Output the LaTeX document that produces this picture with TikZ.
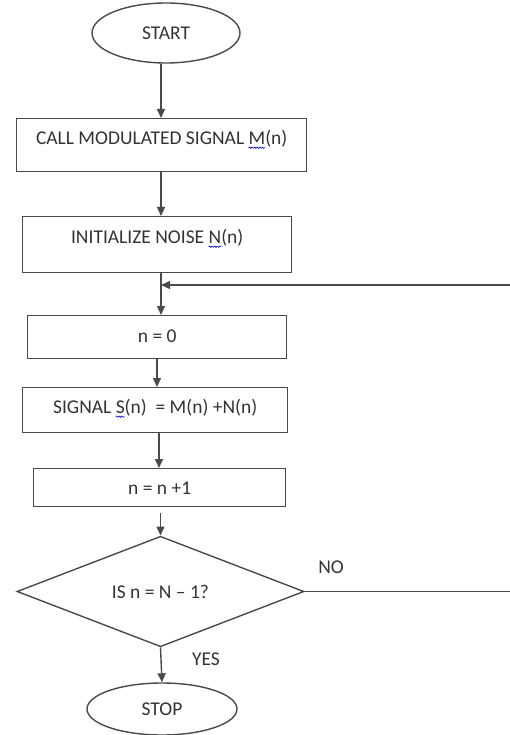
\documentclass[tikz,border=0pt]{standalone}
\usepackage{fontspec}
\setmainfont{Carlito}
\usetikzlibrary{shapes.geometric,arrows.meta,decorations.pathmorphing,calc}
\definecolor{ln}{HTML}{4A4A4A}
\definecolor{tx}{HTML}{333333}
\newlength\sqw
\newcommand\squig[1]{\settowidth\sqw{#1}\rlap{\tikz[overlay,baseline=0pt]\draw[blue!75!black,line width=0.6pt,decorate,decoration={snake,amplitude=0.7pt,segment length=2.6pt}] (0pt,-3pt) -- (\sqw,-3pt);}#1}
\begin{document}
\begin{tikzpicture}[x=1pt,y=-1pt,
  every node/.style={text=tx,font=\fontsize{19.5}{22}\selectfont},
  box/.style={draw=ln,line width=1.4pt,rectangle,inner sep=0pt,anchor=north west},
  term/.style={draw=ln,line width=1.4pt,ellipse,inner sep=0pt},
  dec/.style={draw=ln,line width=1.4pt,diamond,inner sep=0pt},
  arr/.style={draw=ln,line width=1.4pt,-{Triangle[length=9pt,width=8pt]}},
  ln/.style={draw=ln,line width=1.4pt}]
\useasboundingbox (0,0) rectangle (510,735);
\node[term,minimum width=148pt,minimum height=60pt] (start) at (166,33) {START};
\node[box,minimum width=290pt,text height=26pt,text depth=27pt] (call) at (16,118) {CALL MODULATED SIGNAL \squig{M}(n)};
\node[box,minimum width=269pt,text height=27pt,text depth=29pt] (init) at (22,216) {INITIALIZE NOISE \squig{N}(n)};
\node[box,minimum width=259pt,text height=27pt,text depth=16pt] (n0) at (27,315) {n = 0};
\node[box,minimum width=265pt,text height=26pt,text depth=19pt] (sig) at (22,387) {SIGNAL \squig{S}(n)\ \ = M(n) +N(n)};
\node[box,minimum width=252pt,text height=26pt,text depth=12pt] (inc) at (33,468) {n = n +1};
\node[dec,minimum width=287pt,minimum height=87pt] (dia) at (160.5,591.5) {IS n = N -- 1?};
\node[term,minimum width=150pt,minimum height=52pt] (stop) at (162,709) {STOP};
\node (no) at (331,567) {NO};
\node (yes) at (206,659) {YES};
\coordinate (j) at (161,285);
\coordinate (c1) at (513,591.5);
\coordinate (c2) at (513,285);
\draw[arr] (start.south -| j) -- (call.north -| j);
\draw[arr] (call.south -| j) -- (init.north -| j);
\draw[arr] (init.south -| j) -- (n0.north -| j);
\draw[arr] ([xshift=-4pt]n0.south -| j) -- ([xshift=-4pt]sig.north -| j);
\draw[arr] ([xshift=-2pt]sig.south -| j) -- ([xshift=-2pt]inc.north -| j);
\draw[arr] ([yshift=-6pt]inc.south -| dia.north) -- (dia.north);
\draw[arr] (dia.south) -- (stop.north);
\draw[arr] (dia.east) -- (c1) -- (c2) -- (j);
\end{tikzpicture}
\end{document}
